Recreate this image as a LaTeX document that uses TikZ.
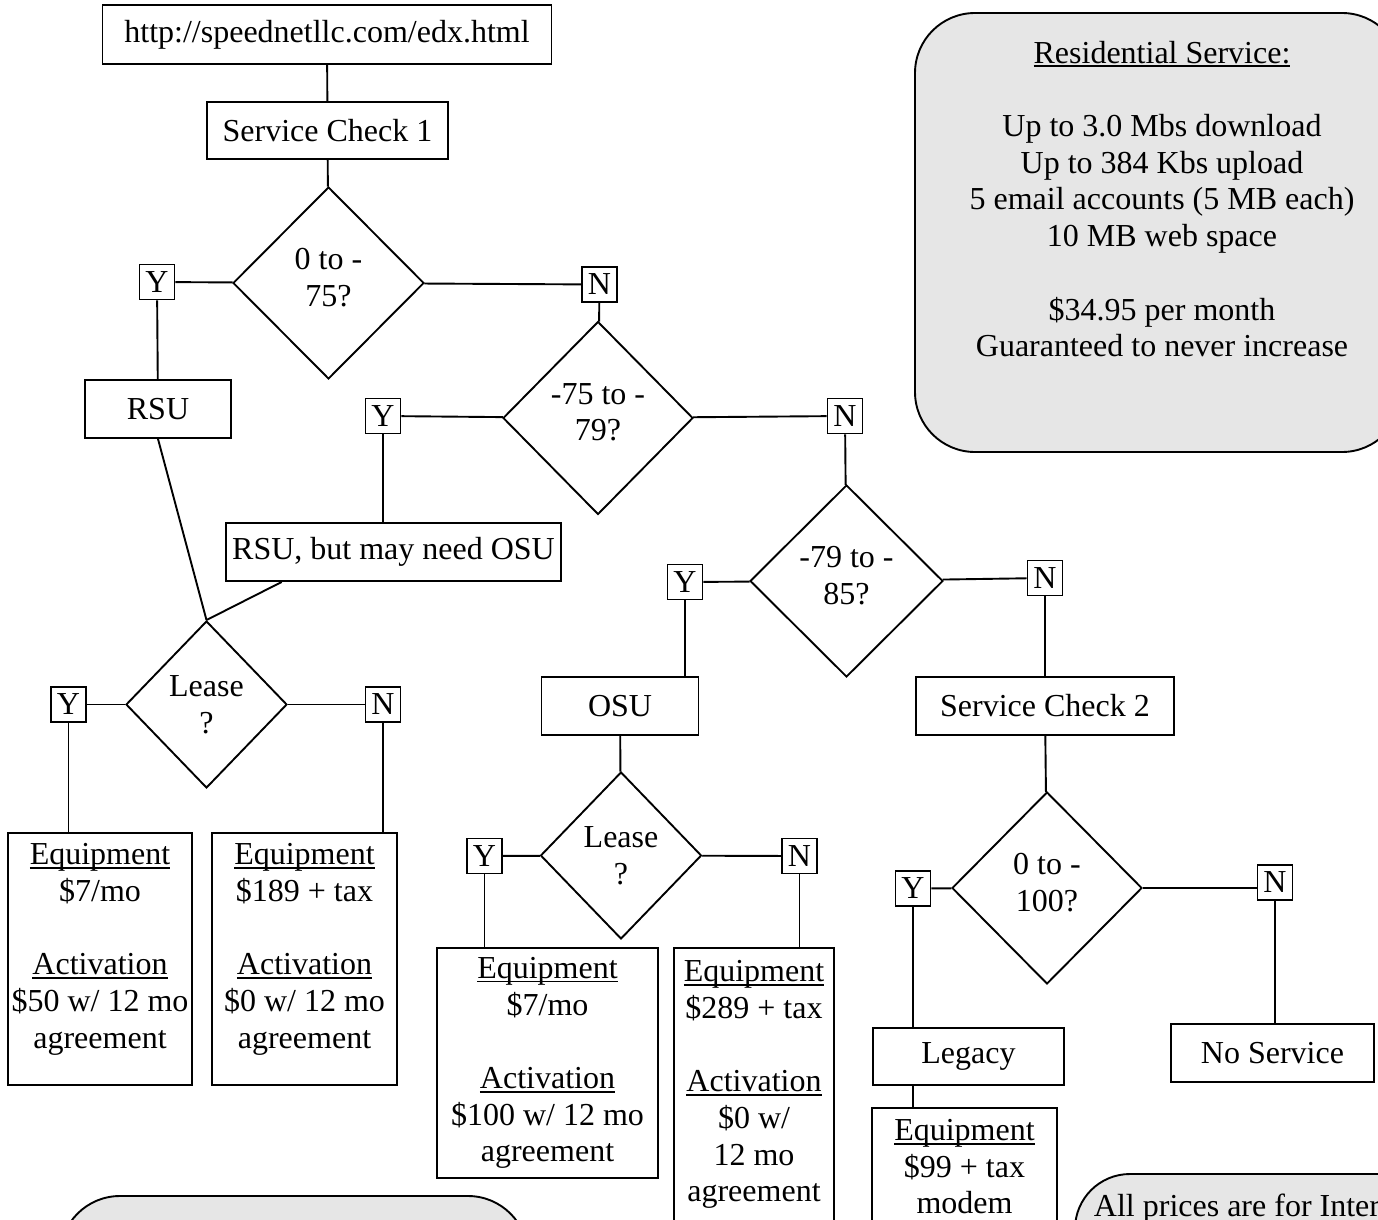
\documentclass[tikz,border=0pt]{standalone}
\usepackage{fontspec}
\setmainfont{Liberation Serif}
\usetikzlibrary{shapes.geometric}
\definecolor{notegrey}{RGB}{230,230,230}
\newsavebox{\ulbox}
\newcommand{\ulword}[1]{\sbox{\ulbox}{#1}\rlap{\rule[-4pt]{\wd\ulbox}{1.8pt}}\usebox{\ulbox}}
\newcommand{\qlift}{\\[-25pt]\mbox{}}

\begin{document}
\begin{tikzpicture}[x=1pt, y=-1pt, line width=1.9pt, font=\fontsize{32}{36.7}\selectfont]
  \tikzstyle{box}=[draw, rectangle, inner sep=0pt, align=center]
  \tikzstyle{test}=[draw, diamond, inner sep=0pt, align=center]
  \tikzstyle{yn}=[draw, rectangle, inner sep=0pt, minimum width=35pt, minimum height=35pt]
  \tikzstyle{note}=[draw, fill=notegrey, rounded corners=55pt]

  \useasboundingbox (0,0) rectangle (1378,1220);
  \clip (0,0) rectangle (1378,1220);

  % grey notes
  \draw[note, rounded corners=60pt] (915,13) rectangle (1402,452);
  \draw[note, rounded corners=60pt] (60,1196) rectangle (528,1420);
  \draw[note] (1075,1174) rectangle (1560,1420);
  \node[inner sep=0pt, anchor=north, align=center] (res) at (1162,40)
    {\ulword{Residential Service:}\\[\baselineskip]Up to 3.0 Mbs download\\Up to 384 Kbs upload\\5 email accounts (5 MB each)\\10 MB web space\\[\baselineskip]\$34.95 per month\\Guaranteed to never increase};
  \node[inner sep=0pt, anchor=base west] (prices) at (1093,1216) {All prices are for Internet};

  % first check
  \node[box, minimum width=449pt, minimum height=59pt] (url) at (327,34.5) {http://speednetllc.com/edx.html};
  \node[box, minimum width=241pt, minimum height=57pt] (sc1) at (327.5,130.5) {Service Check 1};
  \node[test, minimum width=191pt, minimum height=192pt] (d1) at (328.5,283) {0 to -\\75?\qlift};
  \node[yn] (y1) at (157,282) {Y};
  \node[yn] (n1) at (599.5,284.5) {N};
  \node[box, minimum width=146pt, minimum height=58pt] (rsu) at (158,409) {RSU};

  \node[test, minimum width=190pt, minimum height=193pt] (d2) at (598,418) {-75 to -\\79?\qlift};
  \node[yn] (y2) at (383,416) {Y};
  \node[yn] (n2) at (845,416) {N};
  \node[box, minimum width=335pt, minimum height=58pt] (rsub) at (393.5,552) {RSU, but may need OSU};

  \node[test, minimum width=193pt, minimum height=192pt] (d3) at (846.5,581) {-79 to -\\85?\qlift};
  \node[yn] (y3) at (685,582) {Y};
  \node[yn] (n3) at (1045,578) {N};
  \node[box, minimum width=157pt, minimum height=58pt] (osu) at (620,706) {OSU};
  \node[box, minimum width=258pt, minimum height=58pt] (sc2) at (1045,706) {Service Check 2};

  % lease, RSU
  \node[test, minimum width=161pt, minimum height=167pt] (d4) at (206.5,704.5) {Lease\\?};
  \node[yn] (y4) at (68.5,704.5) {Y};
  \node[yn] (n4) at (383,704.5) {N};
  \node[box, minimum width=184pt, minimum height=252pt] (e1) at (100,959)
    {\ulword{Equipment}\\\$7/mo\\[\baselineskip]\ulword{Activation}\\\$50 w/ 12 mo\\agreement\\[-10pt]\mbox{}};
  \node[box, minimum width=185pt, minimum height=252pt] (e2) at (304.5,959)
    {\ulword{Equipment}\\\$189 + tax\\[\baselineskip]\ulword{Activation}\\\$0 w/ 12 mo\\agreement\\[-10pt]\mbox{}};

  % lease, OSU
  \node[test, minimum width=161pt, minimum height=167pt] (d5) at (621,855.5) {Lease\\?};
  \node[yn] (y5) at (484.5,856) {Y};
  \node[yn] (n5) at (799.5,856) {N};
  \node[box, minimum width=221pt, minimum height=230pt] (e3) at (547.5,1063)
    {\ulword{Equipment}\\\$7/mo\\[\baselineskip]\ulword{Activation}\\\$100 w/ 12 mo\\agreement};
  \node[box, minimum width=160pt, minimum height=303pt] (e4) at (754,1099.5)
    {\ulword{Equipment}\\\$289 + tax\\[\baselineskip]\ulword{Activation}\\\$0 w/\\12 mo\\agreement\\\mbox{}};

  % second check
  \node[test, minimum width=190pt, minimum height=192pt] (d6) at (1047,888) {0 to -\\100?\qlift};
  \node[yn] (y6) at (913,888.5) {Y};
  \node[yn] (n6) at (1275,882.5) {N};
  \node[box, minimum width=191pt, minimum height=57pt] (legacy) at (968.5,1056.5) {Legacy};
  \node[box, minimum width=203pt, minimum height=58pt] (nosrv) at (1272.5,1053) {No Service};
  \node[box, minimum width=185pt, minimum height=154pt] (e5) at (964.5,1185)
    {\ulword{Equipment}\\\$99 + tax\\modem\\\mbox{}};

  \path (url) edge (sc1)
        (sc1) edge (d1)
        (d1) edge (y1)
             edge (n1)
        (y1) edge (rsu)
        (n1) edge (d2)
        (d2) edge (y2)
             edge (n2)
        (y2) edge (y2 |- rsub.north)
        (rsu.south) edge (d4.north)
        (rsub.195) edge (d4.north)
        (n2) edge (d3)
        (d3) edge (y3)
             edge (n3)
        (y3) edge (y3 |- osu.north)
        (n3) edge (sc2)
        (d4) edge (y4)
             edge (n4)
        (y4) edge (y4 |- e1.north)
        (n4) edge (n4 |- e2.north)
        (osu) edge (d5)
        (d5) edge (y5)
             edge (n5)
        (y5) edge (y5 |- e3.north)
        (n5) edge (n5 |- e4.north)
        (sc2) edge (d6)
        (d6) edge (y6)
        (d6.east) edge (d6.east -| n6.west)
        (y6) edge (y6 |- legacy.north)
        (n6) edge (n6 |- nosrv.north)
        (legacy.south -| y6) edge (e5.north -| y6);
\end{tikzpicture}
\end{document}
